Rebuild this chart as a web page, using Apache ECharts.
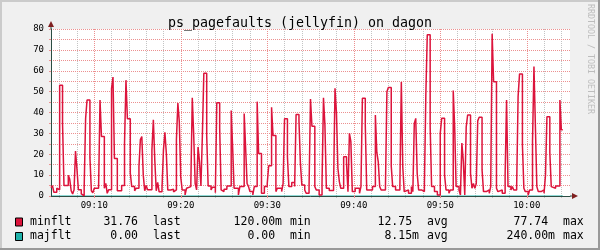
<!DOCTYPE html>
<html>
<head>
<meta charset="utf-8">
<script src="https://cdn.jsdelivr.net/npm/echarts@6/dist/echarts.min.js"></script>
<style>
html,body{margin:0;padding:0;background:#F0F0F0;}
#chart{width:600px;height:250px;}
</style>
</head>
<body>
<div id="chart"></div>
<script>
// ---- data (time = seconds after 09:05:00) ----
const startSec = 300;              // 09:05 expressed in seconds after 09:00
const endSec = 3900;               // 10:05
const minfltTimes = [0,10,20,40,50,60,80,90,120,130,140,150,160,170,180,190,210,220,230,240,250,270,280,290,300,330,340,350,370,380,390,400,420,430,440,460,490,510,520,530,550,560,580,590,610,620,630,640,650,660,670,700,710,720,730,740,750,770,780,790,800,810,830,850,860,870,880,890,900,910,930,940,950,970,980,990,1000,1010,1020,1030,1040,1050,1060,1080,1090,1110,1120,1140,1150,1170,1180,1190,1200,1220,1250,1260,1270,1300,1310,1340,1350,1360,1370,1380,1400,1410,1430,1440,1460,1480,1500,1510,1530,1540,1560,1570,1600,1610,1620,1640,1650,1670,1690,1700,1720,1730,1740,1760,1770,1790,1800,1810,1830,1840,1860,1880,1890,1900,1910,1930,1960,1970,1980,1990,2000,2010,2030,2050,2060,2070,2080,2090,2110,2140,2150,2160,2180,2190,2230,2250,2260,2270,2280,2290,2320,2330,2340,2360,2370,2390,2420,2430,2440,2450,2460,2480,2500,2510,2520,2530,2540,2550,2570,2590,2600,2610,2630,2640,2660,2680,2700,2710,2730,2740,2760,2770,2790,2800,2810,2830,2840,2850,2860,2870,2880,2890,2910,2920,2930,2940,2950,2960,2970,2990,3000,3020,3040,3050,3060,3070,3090,3100,3110,3130,3150,3160,3170,3190,3200,3210,3230,3240,3250,3270,3280,3290,3310,3320,3340,3350,3360,3370,3380,3400,3420,3430,3440,3460,3470,3480,3500,3530,3540,3550];
const minfltValues = [4,5,1.8,3.7,3,53,35,5,10,8,2.5,1,3,21.5,13,3,1,0.12,3.7,37,46,18.5,2.5,1.5,3.7,4.5,46,28.5,3.7,6,1.3,3,51.5,57,18,2.5,5,25,55.5,37,11,4.5,2.5,3.7,14,27,28.5,10,2.5,5,3,22,36.5,17,2.5,6.5,2,3.7,22,30.5,20.5,2.9,3.2,2,2.9,27,44.5,35.5,9,2.9,0.5,3.7,4.5,6,47,29,6,2.9,23.5,16.5,4.8,29,58.8,29,4.8,2.9,4.2,1.6,44.7,32.6,2.9,2.1,3.2,4.8,40.9,23,3.7,0.5,4.5,39.5,23,6,4.5,2.1,0.5,4.5,45.2,20.4,1.3,4.5,6,14.5,42.5,29,2.1,3.7,2.1,6,37,18.8,4.5,6.5,4.5,39,36,15.6,5.3,2.9,1.3,4.5,46.5,33.4,4.5,2.9,0.5,6,47,34,3.7,2.6,4.5,51.6,40,13.3,6.9,3.7,18.8,15.6,2.1,30,26,2.1,3.7,1.3,4.5,46.8,34,2.9,4.5,38.8,21,16.4,4.5,2.9,4.5,50,52,14.4,4.5,2.9,4.5,54.6,14,2.1,2.9,1.3,4.5,2.1,34.8,37.2,10.9,2.9,2.1,4.5,48.4,77.2,33.2,4.5,2.1,0.5,30,37.2,10,2.9,1.3,2.9,50.5,33.2,4.5,2.9,0.5,25.4,16.6,0.5,33,38.8,10.9,3.7,6,3.7,6,36,37.7,12.5,2.1,2.9,1.3,4.5,77.74,54.7,3.7,2.1,2.9,1.3,10,46,4.5,2.9,4.5,2.9,4.5,47.6,58.5,24.4,3.7,2.1,0.5,2.9,26,62,33.2,4.5,2.1,2.9,1.3,10,38,21,4.5,3.7,4.8,46,31.76,31.76];
const majfltTimes = [0,340,350,3550];
const majfltValues = [0,0.24,0,0];

const seriesNames = ['minflt','majflt'];
const seriesColors = ['#DC143C','#20B2AA'];
const lastVals = ['31.76','0.00'];
const minVals = ['120.00m','0.00 '];
const avgVals = ['12.75 ','8.15m'];
const maxVals = ['77.74 ','240.00m'];

const majorTickSecs = [600,1200,1800,2400,3000,3600];
const majorTickLabels = ['09:10','09:20','09:30','09:40','09:50','10:00'];
const minorTickSecs = [360,480,720,840,960,1080,1320,1440,1560,1680,1920,2040,2160,2280,2520,2640,2760,2880,3120,3240,3360,3480,3720,3840];

const title = 'ps_pagefaults (jellyfin) on dagon';
const sideText = 'RRDTOOL / TOBI OETIKER';

// ---- build ----
const toPairs = (ts, vs) => ts.map((t, i) => [startSec + t, vs[i]]);
const MONO = 'DejaVu Sans Mono';
const GRID_RED = '#EC9090';
const GRID_GRAY = '#C4C4C4';
const AXIS = '#2C4D43';
const ARROW = '#7F1F1F';

const chart = echarts.init(document.getElementById('chart'), null, {renderer: 'canvas'});

const legendGraphics = [];
const rowY = [222, 236.5];
seriesNames.forEach((n, i) => {
  const y = rowY[i];
  const ts = {fontFamily: MONO, fontSize: 11.5, fill: '#000', textVerticalAlign: 'middle'};
  legendGraphics.push({type:'rect', shape:{x:15.5, y:y-4, width:7, height:8}, style:{fill:seriesColors[i], stroke:'#000', lineWidth:1}});
  legendGraphics.push({type:'text', x:30, y:y, style:Object.assign({text:n, textAlign:'left'}, ts)});
  legendGraphics.push({type:'text', x:138, y:y, style:Object.assign({text:lastVals[i], textAlign:'right'}, ts)});
  legendGraphics.push({type:'text', x:153, y:y, style:Object.assign({text:'last', textAlign:'left'}, ts)});
  legendGraphics.push({type:'text', x:282, y:y, style:Object.assign({text:minVals[i], textAlign:'right'}, ts)});
  legendGraphics.push({type:'text', x:290, y:y, style:Object.assign({text:'min', textAlign:'left'}, ts)});
  legendGraphics.push({type:'text', x:419, y:y, style:Object.assign({text:avgVals[i], textAlign:'right'}, ts)});
  legendGraphics.push({type:'text', x:427, y:y, style:Object.assign({text:'avg', textAlign:'left'}, ts)});
  legendGraphics.push({type:'text', x:555, y:y, style:Object.assign({text:maxVals[i], textAlign:'right'}, ts)});
  legendGraphics.push({type:'text', x:563, y:y, style:Object.assign({text:'max', textAlign:'left'}, ts)});
});

const option = {
  backgroundColor: '#F0F0F0',
  animation: false,
  title: {
    text: title, left: 'center', top: 12,
    textStyle: {fontFamily: MONO, fontSize: 13.3, fontWeight: 'normal', color: '#000'}
  },
  grid: {left: 51, top: 29, width: 519, height: 167, show: true, backgroundColor: '#FFFFFF', borderWidth: 0},
  xAxis: [
    {
      type: 'value', min: startSec, max: endSec, position: 'bottom', z: 2,
      axisLine: {show: true, onZero: false, lineStyle: {color: AXIS, width: 1}},
      axisTick: {show: true, length: 2, customValues: majorTickSecs, lineStyle: {color: GRID_RED}},
      axisLabel: {show: true, customValues: majorTickSecs, margin: 5,
        fontFamily: MONO, fontSize: 9, color: '#000',
        formatter: v => majorTickLabels[majorTickSecs.indexOf(v)] || ''},
      splitLine: {show: true, lineStyle: {color: GRID_RED, type: [1, 1], width: 1}}
    },
    {
      type: 'value', min: startSec, max: endSec, position: 'bottom', z: 1,
      axisLine: {show: false},
      axisTick: {show: true, length: 2, customValues: minorTickSecs, lineStyle: {color: GRID_GRAY}},
      axisLabel: {show: false, customValues: minorTickSecs},
      splitLine: {show: true, lineStyle: {color: GRID_GRAY, type: [1, 1], width: 1}}
    }
  ],
  yAxis: {
    type: 'value', min: 0, max: 80, interval: 5, z: 2,
    axisLine: {show: true, lineStyle: {color: AXIS, width: 1}},
    axisTick: {show: true, length: 2, lineStyle: {color: GRID_RED}},
    axisLabel: {margin: 7, fontFamily: MONO, fontSize: 9, color: '#000',
      formatter: v => (v % 10 === 0 ? String(v) : '')},
    splitLine: {show: true, lineStyle: {color: GRID_RED, type: [1, 1], width: 1}}
  },
  series: [
    {
      name: seriesNames[1], type: 'line', step: 'end', xAxisIndex: 0, z: 1,
      data: toPairs(majfltTimes, majfltValues), showSymbol: false, symbol: 'none',
      lineStyle: {color: seriesColors[1], width: 1}, itemStyle: {color: seriesColors[1]}
    },
    {
      name: seriesNames[0], type: 'line', step: 'end', xAxisIndex: 0, z: 3,
      data: toPairs(minfltTimes, minfltValues), showSymbol: false, symbol: 'none',
      lineStyle: {color: seriesColors[0], width: 1.5}, itemStyle: {color: seriesColors[0]}
    }
  ],
  graphic: [
    // frame
    {type:'rect', shape:{x:0, y:0, width:600, height:2}, style:{fill:'#CBCBCB'}, silent:true},
    {type:'rect', shape:{x:0, y:0, width:2, height:250}, style:{fill:'#CBCBCB'}, silent:true},
    {type:'rect', shape:{x:0, y:248, width:600, height:2}, style:{fill:'#999999'}, silent:true},
    {type:'rect', shape:{x:598, y:0, width:2, height:250}, style:{fill:'#999999'}, silent:true},
    // axis extensions and arrows
    {type:'line', shape:{x1:570, y1:196, x2:575, y2:196}, style:{stroke:AXIS, lineWidth:1}, z:10},
    {type:'polygon', shape:{points:[[572,193],[578,196],[572,199]]}, style:{fill:ARROW}, z:10},
    {type:'line', shape:{x1:51, y1:29, x2:51, y2:25}, style:{stroke:AXIS, lineWidth:1}, z:10},
    {type:'polygon', shape:{points:[[48,27],[51,21],[54,27]]}, style:{fill:ARROW}, z:10},
    // side credit
    {type:'text', x:590, y:4, rotation:-Math.PI/2,
      style:{text:sideText, fontFamily:MONO, fontSize:8.3, fill:'#BDBDBD', textAlign:'left', textVerticalAlign:'middle'}}
  ].concat(legendGraphics)
};
chart.setOption(option);
</script>
</body>
</html>
